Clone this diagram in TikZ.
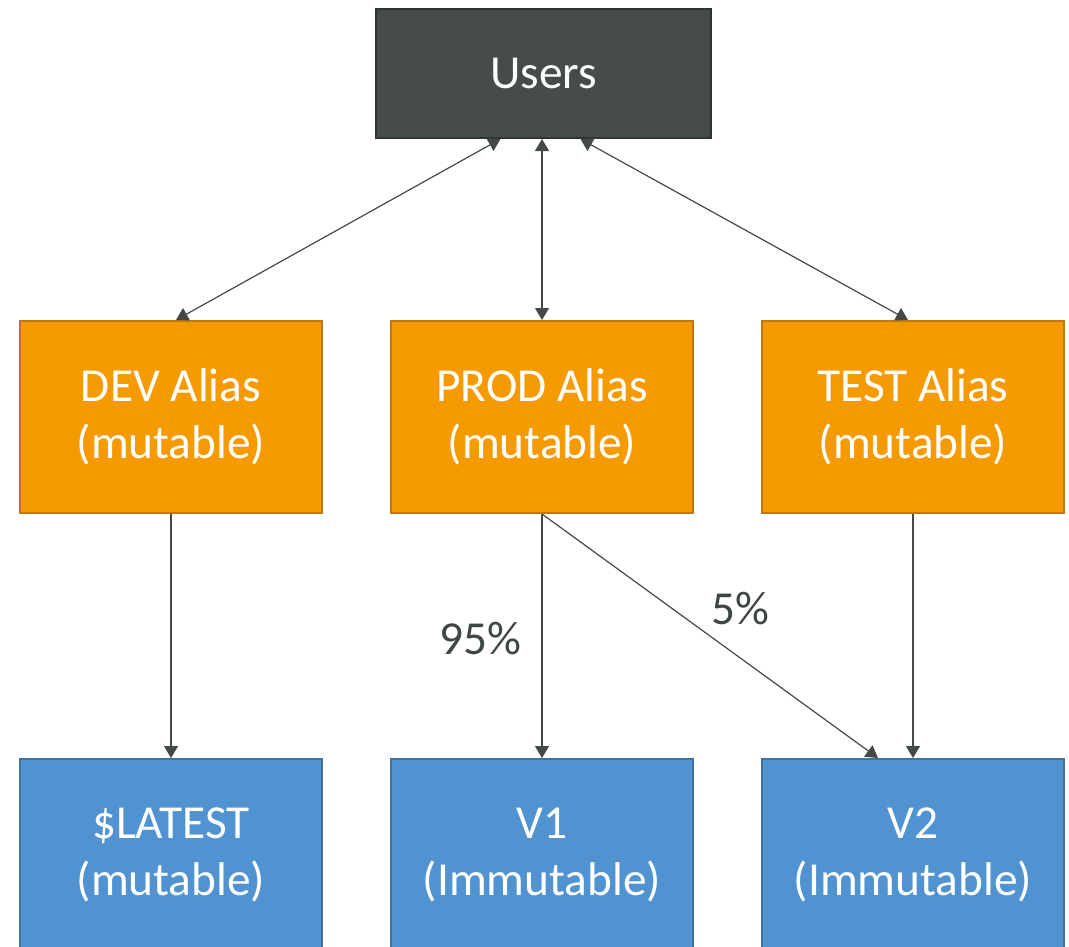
\documentclass[tikz,border=0pt]{standalone}
\usepackage{fontspec}
\setmainfont{Carlito}
\usetikzlibrary{arrows.meta,calc}
\definecolor{usersfill}{HTML}{464B4B}
\definecolor{usersdraw}{HTML}{2F3434}
\definecolor{orangefill}{HTML}{F59A00}
\definecolor{orangedraw}{HTML}{C0780F}
\definecolor{bluefill}{HTML}{5192D0}
\definecolor{bluedraw}{HTML}{41719C}
\definecolor{linecol}{HTML}{434848}
\definecolor{labelcol}{HTML}{404545}
\tikzset{
  box/.style={rectangle, line width=1.5pt, align=center, text=white,
    font=\fontsize{35.5}{43}\selectfont, inner sep=0pt},
  userbox/.style={box, fill=usersfill, draw=usersdraw, minimum width=251.25pt, minimum height=96.75pt},
  aliasbox/.style={box, fill=orangefill, draw=orangedraw, minimum width=226.5pt, minimum height=144pt},
  versionbox/.style={box, fill=bluefill, draw=bluedraw, minimum width=226.5pt, minimum height=144pt},
  conn/.style={draw=linecol, line width=0.9pt, -{Triangle[width=10.5pt,length=9pt]}},
  biconn/.style={draw=linecol, line width=0.9pt, {Triangle[width=10.5pt,length=9pt]}-{Triangle[width=10.5pt,length=9pt]}},
  pct/.style={text=labelcol, font=\fontsize{35.5}{43}\selectfont, inner sep=0pt}
}
\begin{document}
\begin{tikzpicture}[x=0.75pt,y=-0.75pt]
\useasboundingbox (0,0) rectangle (1069,946);
\node[userbox] (users) at (543.5,73.5) {Users};
\node[aliasbox] (dev) at (171,417) {DEV Alias\\(mutable)};
\node[aliasbox] (prod) at (542,417) {PROD Alias\\(mutable)};
\node[aliasbox] (test) at (913,417) {TEST Alias\\(mutable)};
\node[versionbox] (latest) at (171,855) {\$LATEST\\(mutable)};
\node[versionbox] (v1) at (542,855) {V1\\(Immutable)};
\node[versionbox] (v2) at (913,855) {V2\\(Immutable)};
\draw[biconn] ($(users.south)+(-43,0)$) -- ($(dev.north)+(5,0)$);
\draw[biconn] (prod.north |- users.south) -- (prod.north);
\draw[biconn] ($(users.south)+(37,0)$) -- ($(test.north)+(-5,0)$);
\draw[conn] (dev.south) -- (latest.north);
\draw[conn] (prod.south) -- (v1.north);
\draw[conn] (prod.south) -- ($(v2.north)+(-35,0)$);
\draw[conn] (test.south) -- (v2.north);
\node[pct] (p95) at (480,639) {95\%};
\node[pct] (p5) at (740,609) {5\%};
\end{tikzpicture}
\end{document}
